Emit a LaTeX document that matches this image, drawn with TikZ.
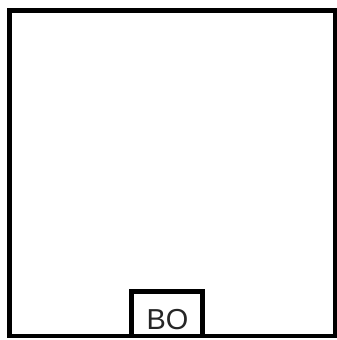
\documentclass[tikz,border=0pt]{standalone}
\usepackage{fontspec}
\setmainfont{Liberation Sans}
\begin{document}
\begin{tikzpicture}[x=1bp,y=-1bp,
  wall/.style={draw=black,line width=4.6bp},
  label/.style={font=\fontsize{29}{30}\selectfont,inner sep=0pt,text=black!85}]
\useasboundingbox[fill=white] (0,0) rectangle (337,340);
\coordinate (tl) at (9.5,10.5);
\coordinate (br) at (335,336);
\draw[wall] (tl) rectangle (br);
\coordinate (bl) at (131.5,336);
\coordinate (bt) at (202.5,291.5);
\draw[wall] (bl) |- (bt) -- (202.5,336);
\node[label] (bo) at (167.5,319.5) {BO};
\end{tikzpicture}
\end{document}
